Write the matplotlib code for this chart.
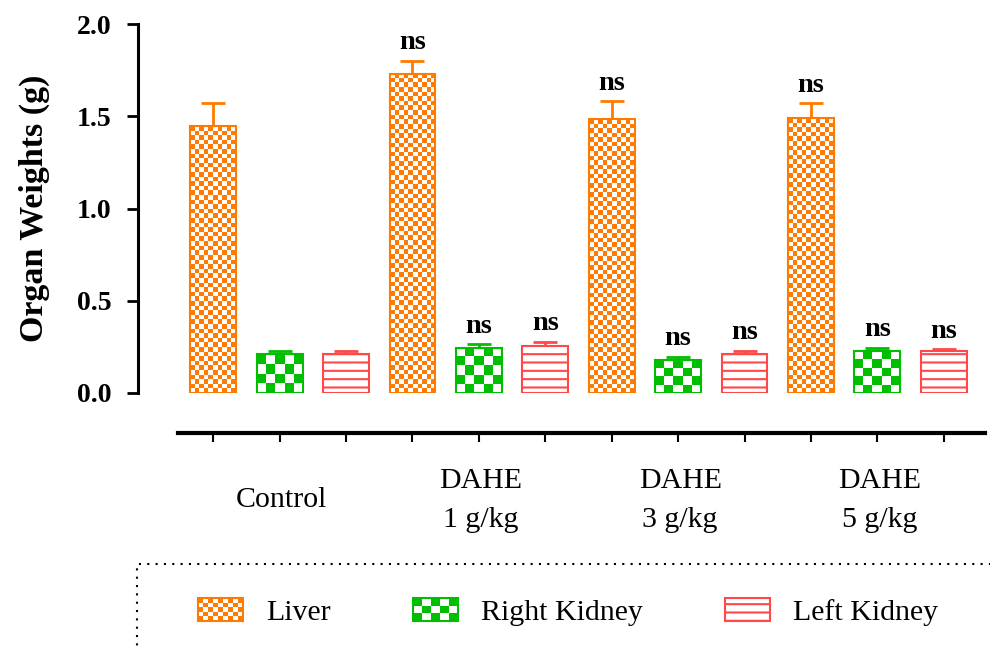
import numpy as np
import matplotlib
matplotlib.use('Agg')
import matplotlib.pyplot as plt
from matplotlib.colors import ListedColormap
from matplotlib.patches import Rectangle, Patch
from matplotlib.legend_handler import HandlerBase

plt.rcParams['font.family'] = ['Liberation Serif', 'DejaVu Serif']
plt.rcParams['hatch.linewidth'] = 1.5

groups = ['Control', 'DAHE\n1 g/kg', 'DAHE\n3 g/kg', 'DAHE\n5 g/kg']
organs = ['Liver', 'Right Kidney', 'Left Kidney']
liver = [1.445, 1.73, 1.485, 1.49]
liver_err = [0.125, 0.07, 0.095, 0.08]
rkid = [0.21, 0.245, 0.18, 0.225]
rkid_err = [0.02, 0.018, 0.015, 0.02]
lkid = [0.21, 0.255, 0.21, 0.228]
lkid_err = [0.017, 0.022, 0.02, 0.01]
signif = ['', 'ns', 'ns', 'ns']

c_liver = '#FF7A00'
c_rk = '#00BF00'
c_lk = '#FF4848'


class HandlerCheck(HandlerBase):
    def __init__(self, nx, ny, color):
        super().__init__()
        self.nx, self.ny, self.color = nx, ny, color

    def create_artists(self, legend, orig_handle, xdescent, ydescent,
                       width, height, fontsize, trans):
        arts = []
        cw = width / self.nx
        ch = height / self.ny
        for i in range(self.nx):
            for j in range(self.ny):
                if (i + j) % 2 == 0:
                    arts.append(Rectangle((-xdescent + i * cw, -ydescent + j * ch), cw, ch,
                                          facecolor=self.color, edgecolor='none', transform=trans))
        arts.append(Rectangle((-xdescent, -ydescent), width, height, facecolor='none',
                              edgecolor=self.color, lw=1.5, transform=trans))
        return arts


fig = plt.figure(figsize=(9.9, 6.48), dpi=100)
ax = fig.add_axes([178 / 990, 1 - 393 / 648, (985 - 178) / 990, (393 - 24) / 648])
ax.set_xlim(-0.53, 11.62)
ax.set_ylim(0, 2)

w = 0.69
series = [(liver, liver_err, c_liver, 'check_fine'),
          (rkid, rkid_err, c_rk, 'check_big'),
          (lkid, lkid_err, c_lk, 'lines')]

for k, (vals, errs, col, style) in enumerate(series):
    xs = np.arange(len(groups)) * 3 + k
    if style == 'lines':
        bars = ax.bar(xs, vals, width=w, facecolor='white', edgecolor=col, hatch='--',
                      lw=1.5, zorder=3)
    else:
        bars = ax.bar(xs, vals, width=w, facecolor='none', edgecolor=col, lw=1.5, zorder=3)
        cell = 4.6 if style == 'check_fine' else 9.0
        cmap = ListedColormap(['white', col])
        for r in bars:
            x0, h = r.get_x(), r.get_height()
            p0 = ax.transData.transform((x0, 0))
            p1 = ax.transData.transform((x0 + w, h))
            nx = max(1, int(round((p1[0] - p0[0]) / cell)))
            ny = max(1, int(round((p1[1] - p0[1]) / cell)))
            arr = np.add.outer(np.arange(ny), np.arange(nx)) % 2
            ax.imshow(arr, extent=(x0, x0 + w, 0, h), origin='lower', cmap=cmap,
                      interpolation='nearest', aspect='auto', zorder=2)
    ax.errorbar(xs, vals, yerr=[np.zeros(len(vals)), errs], fmt='none', ecolor=col,
                elinewidth=2, capsize=8.5, capthick=2, zorder=1)
    for x, v, e, s in zip(xs, vals, errs, signif):
        if s:
            ax.annotate(s, (x, v + e), xytext=(0, 4), textcoords='offset points',
                        ha='center', va='bottom', fontsize=20.5, fontweight='bold')

ax.set_xlim(-0.53, 11.62)
ax.set_ylim(0, 2)

for s in ['top', 'right']:
    ax.spines[s].set_visible(False)
ax.spines['left'].set_position(('outward', 28.8))
ax.spines['bottom'].set_position(('outward', 28.8))
ax.spines['left'].set_linewidth(2.2)
ax.spines['bottom'].set_linewidth(3)

ax.set_yticks([0, 0.5, 1.0, 1.5, 2.0])
ax.set_yticklabels(['0.0', '0.5', '1.0', '1.5', '2.0'], fontsize=20, fontweight='bold')
ax.tick_params(axis='y', length=8, width=2, pad=11)
ax.set_xticks(np.arange(12))
ax.set_xticklabels([])
ax.tick_params(axis='x', length=6.5, width=1.5)

for g, name in enumerate(groups):
    ax.text(g * 3 + 1.03, -0.29, name, transform=ax.get_xaxis_transform(), ha='center',
            va='center', fontsize=21.5, linespacing=1.65)

fig.text(34 / 990, 1 - 208 / 648, 'Organ Weights (g)', rotation=90, ha='center',
         va='center', fontsize=24.5, fontweight='bold')

handles = [Patch(), Patch(), Patch(facecolor='white', edgecolor=c_lk, hatch='--', lw=1.5)]
leg = fig.legend(handles, organs, ncol=3, loc='center left',
                 bbox_to_anchor=(198 / 990, 1 - 612 / 648), frameon=False, fontsize=21.5,
                 handlelength=1.5, handleheight=0.8, handletextpad=0.78,
                 columnspacing=2.75, borderpad=0, borderaxespad=0,
                 handler_map={handles[0]: HandlerCheck(9, 5, c_liver),
                              handles[1]: HandlerCheck(5, 3, c_rk)})

box = Rectangle((137 / 990, -0.1), 1, (648 - 564) / 648 + 0.1, transform=fig.transFigure,
                fill=False, ls=(0, (1, 3)), lw=1.5, edgecolor='black', clip_on=False)
fig.add_artist(box)

fig.savefig('out.png', dpi=100)
